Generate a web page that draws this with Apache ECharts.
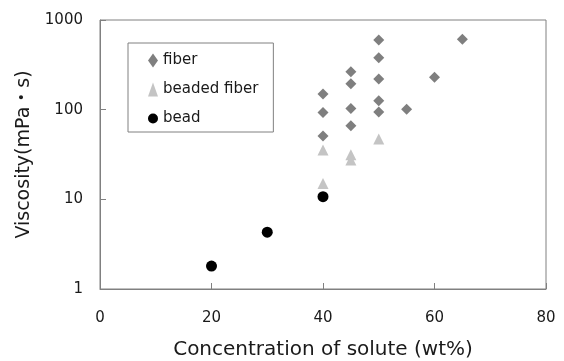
<!DOCTYPE html>
<html>
<head>
<meta charset="utf-8">
<script src="https://cdn.jsdelivr.net/npm/echarts@6/dist/echarts.min.js"></script>
<style>
  html, body { margin: 0; padding: 0; background: #fff; }
  #chart { width: 564px; height: 361px; }
</style>
</head>
<body>
<div id="chart"></div>
<script>
// 数据：浓度 (wt%) 与粘度 (mPa・s)
const fiberX = [40, 40, 40, 45, 45, 45, 45, 50, 50, 50, 50, 50, 55, 60, 65];
const fiberY = [150, 93, 51, 265, 194, 103, 66, 600, 380, 220, 126, 94, 101, 230, 610];
const beadedX = [40, 40, 45, 45, 50];
const beadedY = [35.5, 15, 31.5, 27.5, 47];
const beadX = [20, 30, 40];
const beadY = [1.8, 4.3, 10.7];

const xTicks = [0, 20, 40, 60, 80];
const yTicks = [1, 10, 100, 1000];

const zip = (xs, ys) => xs.map((x, i) => [x, ys[i]]);

const FONT = "'DejaVu Sans', 'Noto Sans CJK JP', sans-serif";
const axisGray = "#808080";
const textColor = "#1a1a1a";

const chart = echarts.init(document.getElementById("chart"));

const option = {
  animation: false,
  textStyle: { fontFamily: FONT },
  grid: {
    left: 100,
    top: 20,
    right: 18,
    bottom: 72,
    outerBoundsMode: "none",
    show: true,
    borderColor: axisGray,
    borderWidth: 1,
    z: 0,
  },
  legend: {
    orient: "vertical",
    left: 128,
    top: 43,
    padding: [10, 15, 6, 20],
    itemGap: 14,
    itemWidth: 10,
    itemHeight: 14,
    borderColor: "#808080",
    borderWidth: 1,
    textStyle: { fontSize: 15, color: textColor, fontFamily: FONT },
    data: ["fiber", "beaded fiber", "bead"],
  },
  xAxis: {
    type: "value",
    min: xTicks[0],
    max: xTicks[xTicks.length - 1],
    interval: 20,
    name: "Concentration of solute (wt%)",
    nameLocation: "middle",
    nameGap: 51,
    nameTextStyle: { fontSize: 20, color: textColor, fontFamily: FONT },
    axisLine: { show: true, lineStyle: { color: axisGray } },
    axisTick: { show: true, inside: true, length: 6, lineStyle: { color: axisGray } },
    axisLabel: { fontSize: 15, color: textColor, margin: 22, fontFamily: FONT },
    splitLine: { show: false },
  },
  yAxis: {
    type: "log",
    logBase: 10,
    min: yTicks[0],
    max: yTicks[yTicks.length - 1],
    name: "Viscosity(mPa・s)",
    nameLocation: "middle",
    nameGap: 66,
    nameTextStyle: { fontSize: 19, color: textColor, fontFamily: FONT },
    axisLine: { show: true, lineStyle: { color: axisGray } },
    axisTick: { show: true, inside: true, length: 6, lineStyle: { color: axisGray } },
    axisLabel: {
      fontSize: 15,
      color: textColor,
      margin: 17,
      fontFamily: FONT,
      formatter: (v) => String(Math.round(v)),
    },
    splitLine: { show: false },
  },
  series: [
    {
      name: "fiber",
      type: "scatter",
      symbol: "diamond",
      symbolSize: 11,
      itemStyle: { color: "#7f7f7f", opacity: 1 },
      data: zip(fiberX, fiberY),
    },
    {
      name: "beaded fiber",
      type: "scatter",
      symbol: "triangle",
      symbolSize: 11,
      itemStyle: { color: "#c4c4c4", opacity: 1 },
      data: zip(beadedX, beadedY),
    },
    {
      name: "bead",
      type: "scatter",
      symbol: "circle",
      symbolSize: 11,
      itemStyle: { color: "#000", opacity: 1 },
      data: zip(beadX, beadY),
    },
  ],
};

chart.setOption(option);
</script>
</body>
</html>
